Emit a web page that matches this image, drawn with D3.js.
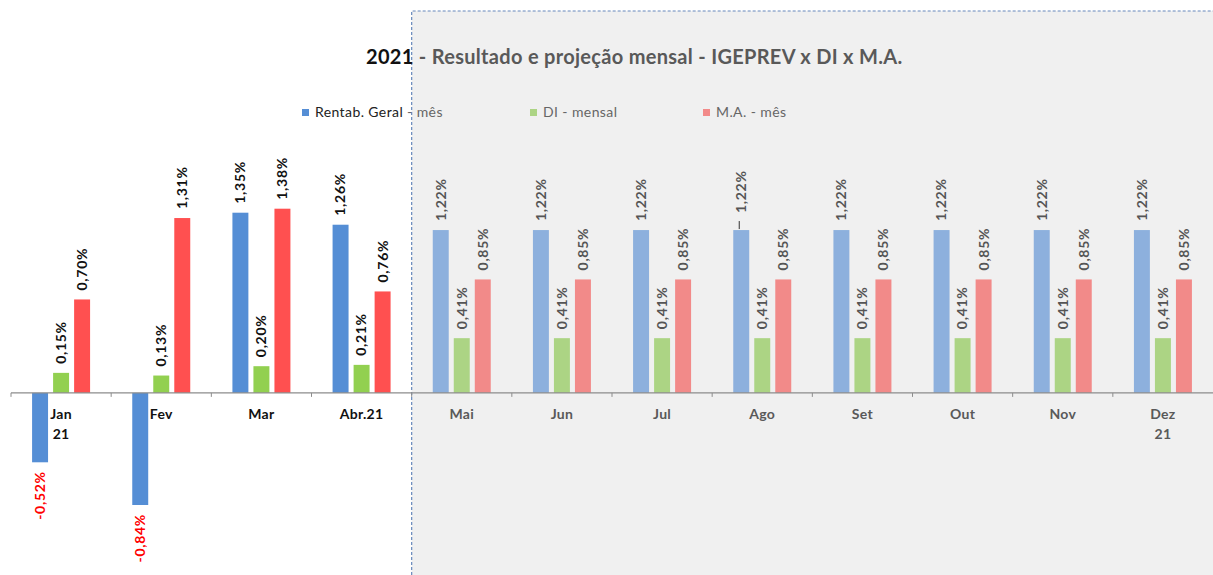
<!DOCTYPE html>
<html>
<head>
<meta charset="utf-8">
<script src="https://cdn.jsdelivr.net/npm/d3@7"></script>
<style>
  body { margin: 0; background: #fff; }
  svg { display: block; font-family: Lato, "Open Sans", sans-serif; }
</style>
</head>
<body>
<div id="chart"></div>
<script>
const months = ["Jan\n21", "Fev", "Mar", "Abr.21", "Mai", "Jun", "Jul", "Ago", "Set", "Out", "Nov", "Dez\n21"];
const rentab = [-0.52, -0.84, 1.35, 1.26, 1.22, 1.22, 1.22, 1.22, 1.22, 1.22, 1.22, 1.22];
const di = [0.15, 0.13, 0.20, 0.21, 0.41, 0.41, 0.41, 0.41, 0.41, 0.41, 0.41, 0.41];
const ma = [0.70, 1.31, 1.38, 0.76, 0.85, 0.85, 0.85, 0.85, 0.85, 0.85, 0.85, 0.85];
const seriesNames = ["Rentab. Geral - mês", "DI - mensal", "M.A. - mês"];
const nRealized = 4; // Jan..Abr are realized, the rest is projection

const width = 1213, height = 575;
const colorsReal = ["#558ed5", "#92d050", "#ff5050"];
const colorsProj = ["#8db0dd", "#acd484", "#f28a89"];

const svg = d3.select("#chart").append("svg")
  .attr("width", width).attr("height", height);

const x = d3.scaleBand().domain(months).range([11, 1213]);
const x1 = d3.scaleBand().domain(seriesNames).range([0, 58]).paddingInner(0.24);
const groupOffset = (x.bandwidth() - 58) / 2;
const y = d3.scaleLinear().domain([-0.84, 1.38]).range([505, 208.7]);

const fmt = v => d3.format(".2f")(v).replace(".", ",").replace("\u2212", "-") + "%";

// projection area
const px = x(months[nRealized]);
svg.append("rect").attr("x", px).attr("y", 11)
  .attr("width", width - px).attr("height", height - 11).attr("fill", "#f0f0f0");
svg.append("path")
  .attr("d", `M${px},${height}V11H${width}`)
  .attr("fill", "none").attr("stroke", "#6688bb")
  .attr("stroke-width", 1.2).attr("stroke-dasharray", "3,2");

// title
const title = svg.append("text").attr("x", 366).attr("y", 64)
  .attr("font-size", 20).attr("font-weight", "bold").attr("letter-spacing", 0.3);
title.append("tspan").attr("fill", "#111").text("2021");
title.append("tspan").attr("fill", "#595959").text(" - Resultado e projeção mensal - IGEPREV x DI x M.A.");

// legend
const legendX = [302, 530, 703];
seriesNames.forEach((s, i) => {
  svg.append("rect").attr("x", legendX[i]).attr("y", 109).attr("width", 7).attr("height", 7)
    .attr("fill", i === 0 ? colorsReal[0] : colorsProj[i]);
  const t = svg.append("text").attr("x", legendX[i] + 13).attr("y", 117)
    .attr("font-size", 14).attr("letter-spacing", 0.4).attr("fill", "#666");
  if (i === 0) {
    t.append("tspan").attr("fill", "#222").text("Rentab. Geral");
    t.append("tspan").text(" - mês");
  } else {
    t.text(s);
  }
});

// bars
const rows = months.map((m, i) => ({ m, i, vals: [rentab[i], di[i], ma[i]] }));
const groups = svg.selectAll("g.grp").data(rows).enter().append("g")
  .attr("transform", d => `translate(${x(d.m) + groupOffset},0)`);

groups.each(function (d) {
  const g = d3.select(this);
  const real = d.i < nRealized;
  d.vals.forEach((v, k) => {
    const bx = x1(seriesNames[k]);
    const bw = x1.bandwidth();
    g.append("rect")
      .attr("x", bx).attr("width", bw)
      .attr("y", y(Math.max(0, v)))
      .attr("height", Math.abs(y(v) - y(0)))
      .attr("fill", real ? colorsReal[k] : colorsProj[k]);
    const cx = bx + bw / 2;
    const leader = d.m === "Ago" && k === 0;
    const gap = leader ? 17 : 9;
    const ly = v >= 0 ? y(v) - gap : y(v) + 9;
    if (leader) {
      g.append("line").attr("x1", cx - 2).attr("x2", cx - 2)
        .attr("y1", y(v) - 1).attr("y2", y(v) - 9).attr("stroke", "#333");
    }
    g.append("text")
      .attr("transform", `translate(${cx},${ly}) rotate(-90)`)
      .attr("text-anchor", v >= 0 ? "start" : "end")
      .attr("dy", "0.35em")
      .attr("font-size", 14).attr("font-weight", "bold").attr("letter-spacing", 0.7)
      .attr("fill", v < 0 ? "#ff0000" : (real ? "#111" : "#555"))
      .text(fmt(v));
  });
});

// category axis with ticks between categories
const axisG = svg.append("g");
axisG.append("line").attr("x1", x.range()[0]).attr("x2", x.range()[1])
  .attr("y1", y(0)).attr("y2", y(0)).attr("stroke", "#8c8c8c").attr("stroke-width", 1.2);
months.forEach(m => {
  axisG.append("line").attr("x1", x(m)).attr("x2", x(m))
    .attr("y1", y(0)).attr("y2", y(0) + 4).attr("stroke", "#8c8c8c");
});
months.forEach((m, i) => {
  const lines = m.split("\n");
  const t = axisG.append("text").attr("x", x(m) + x.bandwidth() / 2).attr("y", y(0) + 26)
    .attr("text-anchor", "middle").attr("font-size", 14).attr("font-weight", "bold")
    .attr("letter-spacing", 0.3)
    .attr("fill", i < nRealized ? "#111" : "#595959");
  lines.forEach((l, j) => {
    t.append("tspan").attr("x", x(m) + x.bandwidth() / 2).attr("dy", j === 0 ? 0 : 20).text(l);
  });
});
</script>
</body>
</html>
